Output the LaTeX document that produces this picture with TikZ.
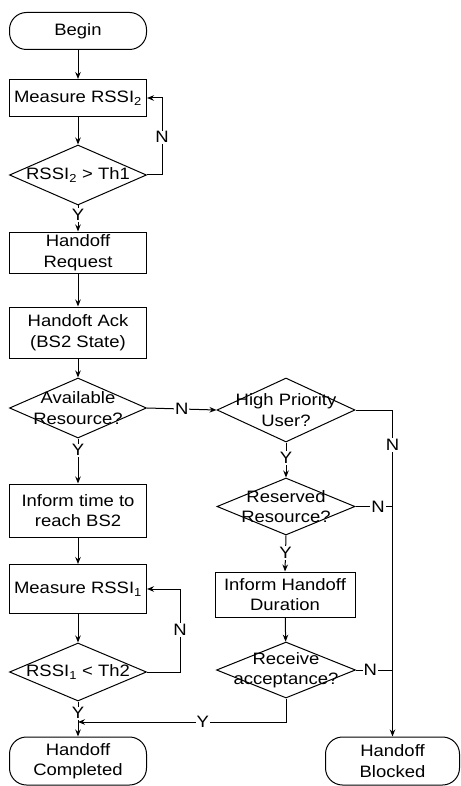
\documentclass[tikz,border=0pt]{standalone}
\usepackage{fontspec}
\setmainfont{Liberation Sans}[FakeStretch=1.12]
\usetikzlibrary{shapes.geometric,arrows.meta}
\begin{document}
\begin{tikzpicture}[x=1pt,y=-1pt,line width=1pt,
  every node/.style={font=\fontsize{16.5}{20.5}\selectfont},
  box/.style={draw,rectangle,minimum width=137pt,inner sep=0pt,align=center},
  term/.style={draw,rectangle,rounded corners=17pt,minimum width=137pt,inner sep=0pt,align=center},
  dec/.style={draw,diamond,minimum width=137pt,inner sep=0pt},
  arr/.style={-{Stealth[length=7pt,width=5.5pt]}},
  lab/.style={fill=white,inner sep=1pt}]
\useasboundingbox (0,0) rectangle (460,786);
% left column
\node[term,minimum height=37pt] (begin) at (78,31) {Begin};
\node[box,minimum height=37pt] (m2) at (78,98) {Measure RSSI\textsubscript{2}};
\node[dec,minimum height=60pt,label={center:RSSI\textsubscript{2} > Th1}] (d1) at (78,175) {};
\node[box,minimum height=41pt] (req) at (78,252.5) {Handoff\\Request};
\node[box,minimum height=51pt] (ack) at (78,332.5) {Handoft Ack\\(BS2 State)};
\node[dec,minimum height=60pt,label={[align=center]center:{Available\\Resource?}}] (d2) at (78,408) {};
\node[box,minimum height=53pt] (inf) at (78,510.5) {Inform time to\\reach BS2};
\node[box,minimum height=49pt] (m1) at (78,589) {Measure RSSI\textsubscript{1}};
\node[dec,minimum height=58pt,label={center:RSSI\textsubscript{1} < Th2}] (d3) at (78,672) {};
\node[term,minimum height=48pt] (comp) at (78,761) {Handoff\\Completed};
% right column
\node[dec,minimum width=138pt,minimum height=64pt,label={[align=center]center:{High Priority\\User?}}] (hpu) at (286,410) {};
\node[dec,minimum width=138pt,minimum height=57pt,label={[align=center]center:{Reserved\\Resource?}}] (res) at (286,506.5) {};
\node[box,minimum width=140pt,minimum height=45pt] (dur) at (285,594.5) {Inform Handoff\\Duration};
\node[dec,minimum width=139pt,minimum height=56pt,label={[align=center]center:{Receive\\acceptance?}}] (acc) at (286,670) {};
\node[term,minimum width=134pt,minimum height=48pt] (blk) at (392.5,761) {Handoff\\Blocked};
\coordinate (mg) at (78,722);
\coordinate (hc) at (hpu.east -| blk.north);
% connectors
\draw[arr] (begin) -- (m2);
\draw[arr] (m2) -- (d1);
\draw[arr] (d1.south) -- node[lab,pos=0.37]{Y} (req.north);
\draw[arr] (d1.east) -- ++(15,0) |- node[lab,pos=0.245]{N} (m2.east);
\draw[arr] (req) -- (ack);
\draw[arr] (ack) -- (d2);
\draw[arr] (d2.south) -- node[lab,pos=0.26]{Y} (inf.north);
\draw[arr] (inf) -- (m1);
\draw[arr] (m1) -- (d3);
\draw[arr] (d3.east) -- ++(33,0) |- node[lab,pos=0.253]{N} (m1.east);
\draw (d3.south) -- node[lab,pos=0.57]{Y} (mg);
\draw[arr] (mg) -- (comp.north);
\draw[arr] (acc.south) |- node[lab,pos=0.7]{Y} (mg);
\draw[arr] (d2.east) -- node[lab]{N} (hpu.west);
\draw (hpu.east) -- (hc);
\draw[arr,line width=1.4pt] (hc) -- node[lab,pos=0.107]{N} (blk.north);
\draw[arr] (hpu.south) -- node[lab,pos=0.44]{Y} (res.north);
\draw (res.east) -- node[lab,pos=0.61]{N} (res.east -| blk.north);
\draw[arr] (res.south) -- node[lab,pos=0.49]{Y} (dur.north);
\draw[arr] (dur) -- (acc);
\draw (acc.east) -- node[lab,pos=0.39]{N} (acc.east -| blk.north);
\end{tikzpicture}
\end{document}
